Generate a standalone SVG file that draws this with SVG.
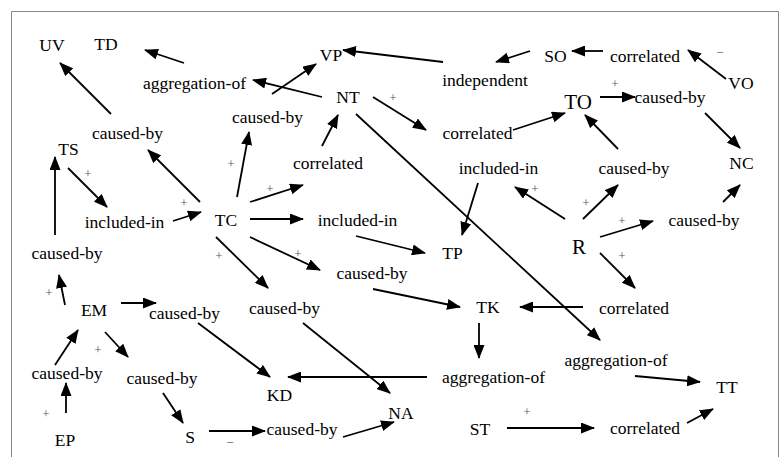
<svg xmlns="http://www.w3.org/2000/svg" width="781" height="457" viewBox="0 0 781 457" font-family="'Liberation Serif', 'Times New Roman', serif">
<style>
text{font-family:"Liberation Serif","Times New Roman",serif;fill:#000}
.n text{font-size:17.5px;text-anchor:middle}
.n text.big{font-size:21px}
.sg text{font-size:13px;fill:#555;text-anchor:middle}
#connectors line{stroke:#000;stroke-width:1.8;marker-end:url(#ah)}
</style>
<defs>
<marker id="ah" markerUnits="userSpaceOnUse" markerWidth="14" markerHeight="11" refX="13" refY="5.5" orient="auto"><path d="M0,0 L14,5.5 L0,11 z" fill="#000"/></marker>
</defs>
<rect width="781" height="457" fill="#fff"/>
<path d="M11.5,457 V11.5 H778.5 V457" fill="none" stroke="#888" stroke-width="1"/>
<g class="n" font-family="'Liberation Serif', 'Times New Roman', serif">
<g id="UV"><text x="52" y="51">UV</text></g>
<g id="TD"><text x="106" y="50">TD</text></g>
<g id="agg1"><text x="194.5" y="89">aggregation-of</text></g>
<g id="VP"><text x="331" y="61">VP</text></g>
<g id="independent"><text x="485" y="86">independent</text></g>
<g id="SO"><text x="555.5" y="62">SO</text></g>
<g id="corr1"><text x="645" y="62">correlated</text></g>
<g id="VO"><text x="741" y="89">VO</text></g>
<g id="NT"><text x="348" y="103">NT</text></g>
<g id="cb1"><text x="127.5" y="139">caused-by</text></g>
<g id="cb2"><text x="267.5" y="123">caused-by</text></g>
<g id="TO"><text class="big" x="578" y="109">TO</text></g>
<g id="cb3"><text x="670" y="103">caused-by</text></g>
<g id="corr2"><text x="477.5" y="139">correlated</text></g>
<g id="TS"><text x="68.5" y="155">TS</text></g>
<g id="corr3"><text x="328" y="169">correlated</text></g>
<g id="inc1"><text x="498.5" y="174">included-in</text></g>
<g id="cb4"><text x="634" y="174">caused-by</text></g>
<g id="NC"><text x="741.5" y="169">NC</text></g>
<g id="inc2"><text x="124.5" y="228">included-in</text></g>
<g id="TC"><text x="226" y="226">TC</text></g>
<g id="inc3"><text x="357.5" y="226">included-in</text></g>
<g id="cb5"><text x="704" y="226">caused-by</text></g>
<g id="R"><text class="big" x="579" y="254">R</text></g>
<g id="TP"><text x="452.5" y="259">TP</text></g>
<g id="cb6"><text x="67" y="259">caused-by</text></g>
<g id="cb7"><text x="372" y="279">caused-by</text></g>
<g id="cb8"><text x="284.5" y="314">caused-by</text></g>
<g id="EM"><text x="94" y="316">EM</text></g>
<g id="cb9"><text x="184.5" y="319">caused-by</text></g>
<g id="TK"><text x="488" y="313">TK</text></g>
<g id="corr4"><text x="634" y="314">correlated</text></g>
<g id="agg2"><text x="616" y="366">aggregation-of</text></g>
<g id="cb10"><text x="67" y="379">caused-by</text></g>
<g id="cb11"><text x="162" y="384">caused-by</text></g>
<g id="agg3"><text x="493.5" y="383">aggregation-of</text></g>
<g id="KD"><text x="279.5" y="401">KD</text></g>
<g id="TT"><text x="727" y="393">TT</text></g>
<g id="NA"><text x="401" y="419">NA</text></g>
<g id="EP"><text x="65" y="446">EP</text></g>
<g id="S"><text x="190" y="443">S</text></g>
<g id="cb12"><text x="302" y="435">caused-by</text></g>
<g id="ST"><text x="480" y="435">ST</text></g>
<g id="corr5"><text x="645" y="434">correlated</text></g>
</g>
<g class="sg" id="signs" font-family="'Liberation Serif', 'Times New Roman', serif">
<text x="615" y="88">+</text>
<text x="720" y="57">−</text>
<text x="393" y="102">+</text>
<text x="88" y="178">+</text>
<text x="231" y="168">+</text>
<text x="184" y="207">+</text>
<text x="270" y="193">+</text>
<text x="219" y="260">+</text>
<text x="298" y="258">+</text>
<text x="535" y="193">+</text>
<text x="586" y="207">+</text>
<text x="622" y="225">+</text>
<text x="622" y="260">+</text>
<text x="49" y="297">+</text>
<text x="98" y="354">+</text>
<text x="46" y="418">+</text>
<text x="230" y="447">−</text>
<text x="527" y="416">+</text>
</g>
<g id="connectors">
<line x1="184" y1="63" x2="145" y2="50"/>
<line x1="111" y1="114" x2="60" y2="63"/>
<line x1="322" y1="97" x2="253" y2="80"/>
<line x1="272" y1="94" x2="316" y2="64"/>
<line x1="443" y1="62" x2="343" y2="50"/>
<line x1="530" y1="51" x2="496" y2="62"/>
<line x1="603" y1="51" x2="572" y2="51"/>
<line x1="726" y1="79" x2="688" y2="50"/>
<line x1="600" y1="97" x2="635" y2="97"/>
<line x1="705" y1="113" x2="740" y2="148"/>
<line x1="373" y1="97" x2="426" y2="130"/>
<line x1="513" y1="130" x2="565" y2="113"/>
<line x1="618" y1="149" x2="585" y2="115"/>
<line x1="478" y1="183" x2="462" y2="235"/>
<line x1="565" y1="219" x2="515" y2="187"/>
<line x1="583" y1="219" x2="618" y2="185"/>
<line x1="600" y1="237" x2="653" y2="221"/>
<line x1="723" y1="202" x2="740" y2="185"/>
<line x1="600" y1="253" x2="635" y2="288"/>
<line x1="583" y1="307" x2="520" y2="307"/>
<line x1="356" y1="114" x2="600" y2="340"/>
<line x1="635" y1="376" x2="700" y2="382"/>
<line x1="507" y1="428" x2="594" y2="428"/>
<line x1="687" y1="423" x2="713" y2="409"/>
<line x1="479" y1="323" x2="479" y2="358"/>
<line x1="427" y1="377" x2="288" y2="377"/>
<line x1="373" y1="289" x2="460" y2="307"/>
<line x1="356" y1="236" x2="425" y2="253"/>
<line x1="303" y1="323" x2="390" y2="393"/>
<line x1="343" y1="437" x2="394" y2="422"/>
<line x1="209" y1="431" x2="265" y2="431"/>
<line x1="163" y1="393" x2="183" y2="423"/>
<line x1="66" y1="413" x2="66" y2="383"/>
<line x1="55" y1="365" x2="78" y2="330"/>
<line x1="105" y1="332" x2="128" y2="357"/>
<line x1="121" y1="303" x2="156" y2="303"/>
<line x1="198" y1="323" x2="270" y2="377"/>
<line x1="65" y1="305" x2="59" y2="275"/>
<line x1="55" y1="235" x2="55" y2="157"/>
<line x1="68" y1="168" x2="107" y2="207"/>
<line x1="173" y1="221" x2="201" y2="212"/>
<line x1="200" y1="202" x2="148" y2="150"/>
<line x1="237" y1="197" x2="249" y2="132"/>
<line x1="250" y1="202" x2="303" y2="185"/>
<line x1="250" y1="219" x2="303" y2="219"/>
<line x1="216" y1="237" x2="268" y2="288"/>
<line x1="250" y1="237" x2="320" y2="270"/>
<line x1="322" y1="146" x2="338" y2="115"/>
</g>
</svg>
